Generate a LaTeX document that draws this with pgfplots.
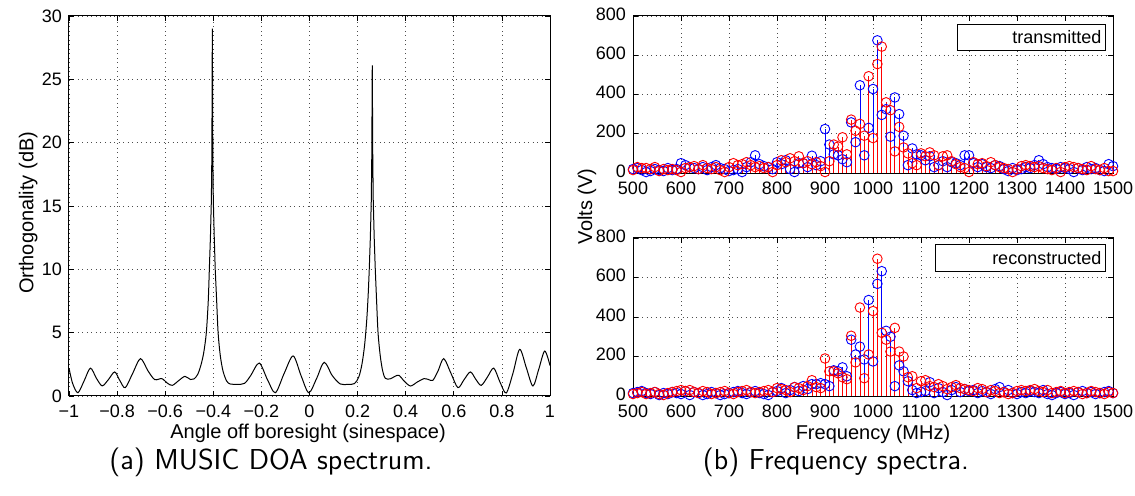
\documentclass[border=0pt]{standalone}
\usepackage{fontspec}
\setmainfont{Liberation Sans}
\usepackage{pgfplots}
\usepackage{pgfplotstable}
\pgfplotsset{compat=1.18}

% stem spectra: f = frequency (MHz); tb/tr = transmitted blue/red, bb/br = reconstructed blue/red
\pgfplotstableread{
f tb tr bb br
500.0 20 15 15 10
509.1 25 30 20 15
518.2 15 25 25 20
527.3 5 25 15 10
536.4 10 20 10 15
545.5 20 30 20 20
554.5 15 10 5 10
563.6 10 20 15 5
572.7 25 15 10 15
581.8 15 20 20 20
590.9 20 15 15 25
600.0 50 5 10 30
609.1 40 25 25 25
618.2 30 30 5 30
627.3 25 35 20 20
636.4 20 20 15 15
645.5 30 40 5 25
654.5 15 25 10 20
663.6 30 20 20 10
672.7 40 30 15 15
681.8 25 15 5 20
690.9 20 5 10 25
700.0 10 30 15 15
709.1 15 50 20 10
718.2 20 40 25 20
727.3 5 45 15 25
736.4 30 55 10 30
745.5 55 40 20 20
754.5 90 30 25 15
763.6 45 35 15 20
772.7 35 25 10 25
781.8 30 30 5 30
790.9 20 5 20 20
800.0 55 40 25 40
809.1 45 65 40 35
818.2 65 55 15 30
827.3 20 75 30 20
836.4 5 60 45 45
845.5 50 85 25 40
854.5 50 50 50 30
863.6 30 60 35 50
872.7 88 45 60 80
881.8 40 55 60 45
890.9 60 35 65 40
900.0 224 5 60 190
909.1 145 60 50 125
918.2 95 145 130 125
927.3 90 135 125 115
936.4 70 182 145 95
945.5 55 95 100 85
954.5 258 272 285 305
963.6 157 215 210 170
972.7 447 250 250 448
981.8 90 190 185 90
990.9 230 493 486 210
1000.0 428 178 175 430
1009.1 676 555 568 695
1018.2 296 644 632 320
1027.3 325 360 330 285
1036.4 185 320 300 225
1045.5 385 110 50 345
1054.5 300 235 155 225
1063.6 190 130 125 200
1072.7 40 100 75 95
1081.8 125 50 30 100
1090.9 95 40 15 40
1100.0 90 100 20 75
1109.1 65 85 25 80
1118.2 85 105 70 50
1127.3 30 90 15 45
1136.4 40 40 40 60
1145.5 60 85 20 50
1154.5 30 90 5 35
1163.6 55 60 30 45
1172.7 50 45 45 55
1181.8 40 30 20 40
1190.9 90 25 35 35
1200.0 90 5 25 30
1209.1 50 55 30 25
1218.2 30 45 15 40
1227.3 45 50 25 35
1236.4 30 35 20 20
1245.5 25 55 10 30
1254.5 40 40 35 25
1263.6 35 30 45 15
1272.7 20 25 20 20
1281.8 10 20 30 10
1290.9 25 5 15 15
1300.0 15 20 10 25
1309.1 20 35 20 30
1318.2 30 40 15 25
1327.3 25 35 25 30
1336.4 40 30 20 35
1345.5 65 35 15 25
1354.5 45 25 30 20
1363.6 30 20 10 30
1372.7 25 15 5 15
1381.8 20 25 15 20
1390.9 30 5 20 25
1400.0 25 30 10 15
1409.1 20 35 15 20
1418.2 5 30 5 25
1427.3 25 25 20 20
1436.4 15 20 25 10
1445.5 30 15 15 15
1454.5 20 35 20 25
1463.6 25 20 10 20
1472.7 15 15 15 15
1481.8 10 25 20 10
1490.9 45 10 25 20
1500.0 35 10 15 15
}\spectra

\pgfplotsset{
  every axis/.append style={
    scale only axis,
    tick label style={font=\fontsize{9}{10}\selectfont},
    xticklabel style={yshift=-1pt},
    label style={font=\fontsize{10}{12}\selectfont},
    grid=major,
    major grid style={black!70, line width=0.4pt, dash pattern=on 0.45pt off 1.8pt},
    axis line style={line width=0.5pt},
    major tick length=2.5pt,
    tick style={black, line width=0.4pt},
    tick align=inside,
    /pgf/number format/assume math mode=true,
    /pgf/number format/1000 sep={},
  },
  stemaxis/.style={
    width=240pt, xmin=500, xmax=1500, ymin=0, ymax=800,
    xtick={500,600,...,1500}, ytick={0,200,...,800},
    yticklabel style={yshift=1pt},
    clip=false,
  },
  stemblue/.style={blue, line width=0.4pt, ycomb, mark=o, mark size=2.4pt, mark options={line width=0.45pt}},
  stemred/.style={red, line width=0.4pt, ycomb, mark=o, mark size=2.4pt, mark options={line width=0.45pt}},
}

\begin{document}
\begin{tikzpicture}
\path[use as bounding box] (0pt,0pt) rectangle (567.5pt,-248pt);

% (a) MUSIC spectrum
\begin{axis}[at={(34.5pt,-8pt)}, anchor=north west,
  width=240.5pt, height=190pt,
  xmin=-1, xmax=1, ymin=0, ymax=30,
  xtick={-1,-0.8,...,1}, ytick={0,5,...,30},
  xticklabels={−1,−0.8,−0.6,−0.4,−0.2,0,0.2,0.4,0.6,0.8,1},
  xlabel={Angle off boresight (sinespace)},
  ylabel={Orthogonality (dB)},
  xlabel style={at={(axis description cs:0.497,-0.097)}, anchor=center},
  ylabel style={at={(axis description cs:-0.085,0.482)}, anchor=center},
]
\addplot[black, line width=0.5pt, smooth] coordinates {
(-1.000,2.2)(-0.985,1.0)(-0.963,0.26)(-0.937,1.2)(-0.911,2.2)(-0.886,1.4)(-0.862,0.8)
(-0.836,1.3)(-0.810,1.9)(-0.788,1.2)(-0.766,0.66)(-0.735,1.8)(-0.703,2.95)(-0.672,2.0)
(-0.644,1.3)(-0.614,1.37)(-0.590,1.0)(-0.570,0.84)(-0.545,1.2)(-0.518,1.55)(-0.495,1.3)
(-0.480,1.35)(-0.465,1.7)(-0.452,2.4)(-0.440,3.4)(-0.429,5.0)(-0.421,7.5)(-0.4165,10)};
\addplot[black, line width=0.5pt] coordinates {
(-0.4165,10)(-0.412,12.5)(-0.408,15.5)(-0.406,19)(-0.404,29)(-0.402,19)(-0.400,15.5)(-0.396,12.5)(-0.392,10)};
\addplot[black, line width=0.5pt, smooth] coordinates {
(-0.392,10)(-0.386,7.5)(-0.380,5.0)(-0.371,3.2)(-0.360,2.0)(-0.345,1.2)(-0.330,0.95)
(-0.300,0.92)(-0.270,1.0)(-0.245,1.6)(-0.209,2.6)(-0.175,1.3)(-0.142,0.26)(-0.105,1.8)
(-0.068,3.16)(-0.035,1.6)(-0.003,0.26)(0.030,1.4)(0.061,2.66)(0.095,1.6)(0.128,0.95)
(0.160,0.92)(0.187,0.98)(0.205,1.5)(0.218,2.5)(0.229,4.0)(0.238,6.0)(0.244,8.0)(0.2485,10)};
\addplot[black, line width=0.5pt] coordinates {
(0.2485,10)(0.253,12.5)(0.257,15.5)(0.259,19)(0.261,26.1)(0.263,19)(0.265,15.5)(0.269,12.5)(0.2735,10)};
\addplot[black, line width=0.5pt, smooth] coordinates {
(0.2735,10)(0.279,7.5)(0.285,5.0)(0.294,3.2)(0.304,2.0)(0.315,1.4)(0.335,1.35)(0.355,1.55)
(0.372,1.63)(0.395,1.15)(0.420,0.79)(0.448,1.1)(0.476,1.37)(0.495,1.3)(0.513,1.24)
(0.535,2.0)(0.558,2.95)(0.588,1.8)(0.617,0.66)(0.643,1.3)(0.669,1.9)(0.692,1.3)(0.714,0.84)
(0.740,1.5)(0.766,2.2)(0.792,1.1)(0.818,0.24)(0.846,1.8)(0.874,3.68)(0.902,2.2)(0.929,0.79)
(0.953,2.1)(0.978,3.55)(1.000,2.4)};
\end{axis}

% (b) transmitted
\begin{axis}[at={(316.5pt,-8pt)}, anchor=north west, stemaxis, height=78.5pt]
\addplot[stemblue] table[x=f, y=tb] {\spectra};
\addplot[stemred] table[x=f, y=tr] {\spectra};
\node[draw, fill=white, line width=0.5pt, anchor=north east, text width=70pt, align=right,
  minimum height=12.75pt, inner xsep=2pt, inner ysep=0pt, font=\fontsize{9}{10}\selectfont]
  at (rel axis cs:0.985,0.949) {transmitted};
\end{axis}

% (b) reconstructed
\begin{axis}[at={(316.5pt,-119pt)}, anchor=north west, stemaxis, height=79pt,
  xlabel={Frequency (MHz)}, ylabel={Volts (V)},
  xlabel style={at={(axis description cs:0.5,-0.24)}, anchor=center},
  ylabel style={at={(axis description cs:-0.096,1.2)}, anchor=center},
]
\addplot[stemblue] table[x=f, y=bb] {\spectra};
\addplot[stemred] table[x=f, y=br] {\spectra};
\node[draw, fill=white, line width=0.5pt, anchor=north east, text width=81pt, align=right,
  minimum height=13.5pt, inner xsep=2pt, inner ysep=0pt, font=\fontsize{9}{10}\selectfont]
  at (rel axis cs:0.985,0.962) {reconstructed};
\end{axis}

\node[font=\sffamily\fontsize{14.4}{17}\selectfont, anchor=base] at (135.5pt,-235pt) {(a) MUSIC DOA spectrum.};
\node[font=\sffamily\fontsize{14.4}{17}\selectfont, anchor=base] at (418pt,-235pt) {(b) Frequency spectra.};
\end{tikzpicture}
\end{document}
